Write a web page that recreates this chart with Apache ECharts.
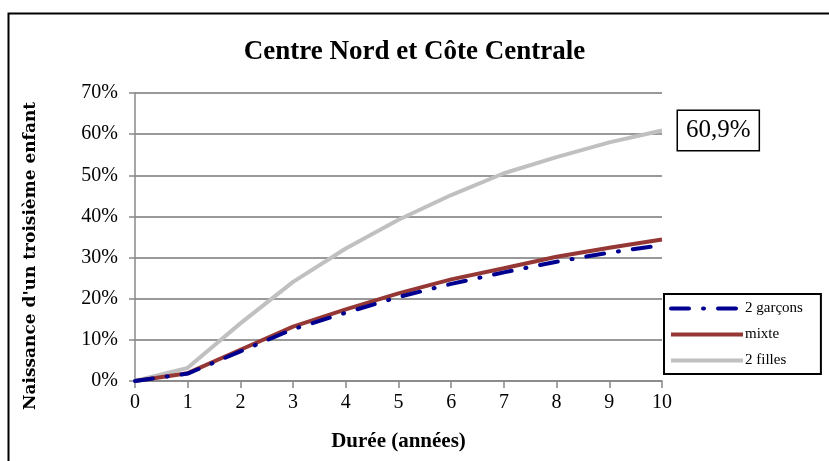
<!DOCTYPE html>
<html>
<head>
<meta charset="utf-8">
<script src="https://cdn.jsdelivr.net/npm/echarts@6/dist/echarts.min.js"></script>
<style>
  html, body { margin: 0; padding: 0; background: #fff; }
  #chart { width: 829px; height: 461px; }
</style>
</head>
<body>
<div id="chart"></div>
<script>
// années
var years = [0, 1, 2, 3, 4, 5, 6, 7, 8, 9, 10];
// valeurs en %
var garcons = [0, 1.8, 7.2, 12.6, 16.6, 20.4, 23.6, 26.4, 29.0, 31.2, 33.0];
var mixte = [0, 1.9, 7.6, 13.2, 17.4, 21.3, 24.7, 27.4, 30.2, 32.4, 34.4];
var filles = [0, 3.2, 14.0, 24.1, 32.2, 39.2, 45.2, 50.5, 54.4, 58.0, 60.9];
var lastLabel = '60,9%';

function pairs(vals) {
  return years.map(function (y, i) { return [y, vals[i]]; });
}

var font = 'Liberation Serif';
var chart = echarts.init(document.getElementById('chart'));

chart.setOption({
  animation: false,
  backgroundColor: '#fff',
  graphic: [{
    type: 'rect',
    shape: { x: 8.5, y: 13.5, width: 840, height: 470 },
    style: { fill: 'none', stroke: '#000', lineWidth: 2 }
  }],
  title: {
    text: 'Centre Nord et Côte Centrale',
    left: 'center',
    top: 34,
    textStyle: { fontFamily: font, fontSize: 27, fontWeight: 'bold', color: '#000' }
  },
  grid: { left: 135, right: 167, top: 93, bottom: 80 },
  legend: {
    orient: 'vertical',
    left: 664,
    top: 294,
    width: 156,
    padding: [7, 18, 6, 5],
    itemGap: 11,
    itemWidth: 72,
    itemHeight: 17,
    borderColor: '#000',
    borderWidth: 2,
    backgroundColor: '#fff',
    itemStyle: { opacity: 0 },
    lineStyle: { width: 4 },
    textStyle: { fontFamily: font, fontSize: 15, color: '#000', padding: [0, 0, 0, -3] },
    data: ['2 garçons', 'mixte', '2 filles']
  },
  xAxis: {
    type: 'value',
    min: 0,
    max: 10,
    interval: 1,
    name: 'Durée (années)',
    nameLocation: 'middle',
    nameGap: 50,
    nameTextStyle: { fontFamily: font, fontSize: 21, fontWeight: 'bold', color: '#000' },
    axisLine: { lineStyle: { color: '#888', width: 1.5 } },
    axisTick: { show: true, length: 7, lineStyle: { color: '#888', width: 1.5 } },
    axisLabel: { fontFamily: font, fontSize: 20, color: '#000', margin: 12 },
    splitLine: { show: false }
  },
  yAxis: {
    type: 'value',
    min: 0,
    max: 70,
    interval: 10,
    name: "Naissance d'un troisième enfant",
    nameLocation: 'middle',
    nameGap: 96,
    nameTextStyle: { fontFamily: 'DejaVu Serif', fontSize: 17, fontWeight: 'bold', color: '#000', padding: [0, 38, 0, 0] },
    axisLine: { show: true, lineStyle: { color: '#888', width: 1.5 } },
    axisTick: { show: true, length: 6, lineStyle: { color: '#888', width: 1.5 } },
    axisLabel: { fontFamily: font, fontSize: 20, color: '#000', margin: 17, formatter: '{value}%' },
    splitLine: { lineStyle: { color: '#999', width: 2 } }
  },
  series: [
    {
      name: '2 garçons',
      type: 'line',
      data: pairs(garcons),
      symbol: 'none',
      color: '#000090',
      lineStyle: { width: 4, color: '#000090', type: [18, 14, 1, 14], cap: 'round' },
      z: 3
    },
    {
      name: 'mixte',
      type: 'line',
      data: pairs(mixte),
      symbol: 'none',
      color: '#953735',
      lineStyle: { width: 4, color: '#953735' },
      z: 2
    },
    {
      name: '2 filles',
      type: 'line',
      data: pairs(filles),
      symbol: 'none',
      color: '#c0c0c0',
      lineStyle: { width: 4, color: '#c0c0c0' },
      z: 1,
      endLabel: {
        show: true,
        formatter: lastLabel,
        fontFamily: font,
        fontSize: 25,
        color: '#000',
        backgroundColor: '#fff',
        borderColor: '#000',
        borderWidth: 1.5,
        padding: [8, 8, 6, 8],
        distance: 16
      }
    }
  ]
});
</script>
</body>
</html>
